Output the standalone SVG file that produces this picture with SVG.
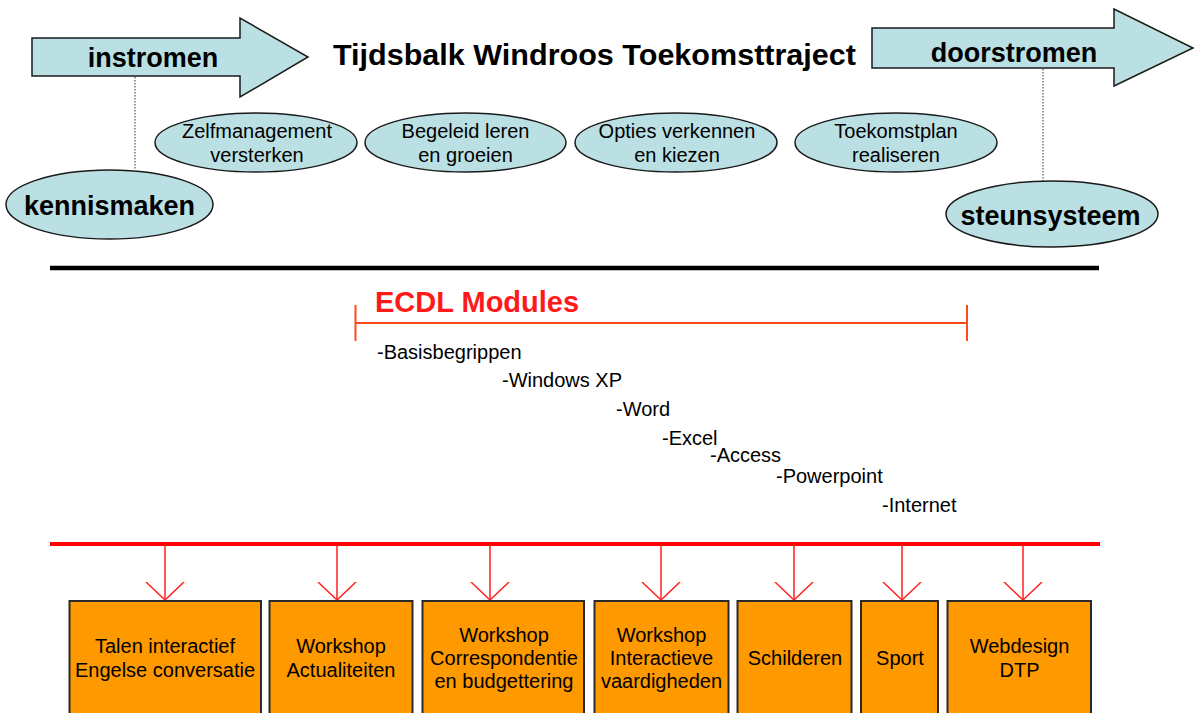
<svg xmlns="http://www.w3.org/2000/svg" width="1198" height="713" viewBox="0 0 1198 713">
<style>
.shape{fill:#BBE0E3;stroke:#1a1a1a;stroke-width:1.5}
.big{font-family:"Liberation Sans",Arial,sans-serif;font-weight:bold;font-size:27px;fill:#000;text-anchor:middle}
.sm{font-family:"Liberation Sans",Arial,sans-serif;font-size:20px;fill:#000;text-anchor:middle}
.li{font-family:"Liberation Sans",Arial,sans-serif;font-size:20px;fill:#000}
.box{fill:#FF9900;stroke:#2a2a2a;stroke-width:2}
.dot{stroke:#555;stroke-width:1.2;stroke-dasharray:1.5 1.5;fill:none}
.conn{stroke:#FF2020;stroke-width:1.5;fill:none}
</style>
<defs>
<marker id="vhead" markerWidth="40" markerHeight="20" refX="20" refY="18" orient="0" markerUnits="userSpaceOnUse" viewBox="0 0 40 20">
<path d="M1,0 L20,18 L39,0" fill="none" stroke="#FF2020" stroke-width="1.5"/>
</marker>
</defs>
<rect width="1198" height="713" fill="#fff"/>

<g id="title">
<text x="333" y="65" font-family="Liberation Sans,Arial,sans-serif" font-weight="bold" font-size="30" textLength="523" lengthAdjust="spacingAndGlyphs">Tijdsbalk Windroos Toekomsttraject</text>
</g>

<g id="connectors-top">
<line class="dot" x1="135" y1="77" x2="135" y2="170"/>
<line class="dot" x1="1043" y1="69" x2="1043" y2="181"/>
</g>

<g id="instromen">
<polygon class="shape" points="32,38 240,38 240,18 308,57 240,97 240,76 32,76"/>
<text class="big" x="153" y="67">instromen</text>
</g>

<g id="doorstromen">
<polygon class="shape" points="872,28 1114,28 1114,9 1193,48 1114,86 1114,68 872,68"/>
<text class="big" x="1014" y="62">doorstromen</text>
</g>

<g id="kennismaken">
<ellipse class="shape" cx="109.5" cy="204.5" rx="103.5" ry="34.5"/>
<text class="big" x="109.5" y="215" font-size="27.5">kennismaken</text>
</g>

<g id="zelfmanagement">
<ellipse class="shape" cx="256" cy="142.5" rx="101" ry="29.5"/>
<text class="sm" x="257" y="138">Zelfmanagement</text>
<text class="sm" x="257" y="162">versterken</text>
</g>

<g id="begeleid">
<ellipse class="shape" cx="465.5" cy="142.5" rx="100.5" ry="29.5"/>
<text class="sm" x="465.5" y="138">Begeleid leren</text>
<text class="sm" x="465.5" y="162">en groeien</text>
</g>

<g id="opties">
<ellipse class="shape" cx="676" cy="142.5" rx="101" ry="29.5"/>
<text class="sm" x="677" y="138">Opties verkennen</text>
<text class="sm" x="677" y="162">en kiezen</text>
</g>

<g id="toekomstplan">
<ellipse class="shape" cx="896" cy="142.5" rx="101" ry="29.5"/>
<text class="sm" x="896" y="138">Toekomstplan</text>
<text class="sm" x="896" y="162">realiseren</text>
</g>

<g id="steunsysteem">
<ellipse class="shape" cx="1052" cy="214" rx="106" ry="33"/>
<text class="big" x="1050.5" y="225">steunsysteem</text>
</g>

<g id="divider">
<line x1="50" y1="268" x2="1099" y2="268" stroke="#000" stroke-width="4.5"/>
</g>

<g id="ecdl">
<text x="375" y="311.5" font-family="Liberation Sans,Arial,sans-serif" font-weight="bold" font-size="29" fill="#FF1A1A">ECDL Modules</text>
<line x1="355.5" y1="305" x2="355.5" y2="341" stroke="#FF4A1A" stroke-width="2"/>
<line x1="355.5" y1="323" x2="967" y2="323" stroke="#FF4A1A" stroke-width="2"/>
<line x1="967" y1="305" x2="967" y2="341" stroke="#FF4A1A" stroke-width="2"/>
<text class="li" x="377" y="359">-Basisbegrippen</text>
<text class="li" x="502" y="387">-Windows XP</text>
<text class="li" x="616" y="416">-Word</text>
<text class="li" x="662" y="445">-Excel</text>
<text class="li" x="710" y="462">-Access</text>
<text class="li" x="776" y="483">-Powerpoint</text>
<text class="li" x="882" y="512">-Internet</text>
</g>

<g id="connectors">
<line x1="50" y1="544" x2="1100" y2="544" stroke="#FF0000" stroke-width="4"/>
<line class="conn" x1="165" y1="545" x2="165" y2="600" marker-end="url(#vhead)"/>
<line class="conn" x1="337" y1="545" x2="337" y2="600" marker-end="url(#vhead)"/>
<line class="conn" x1="490" y1="545" x2="490" y2="600" marker-end="url(#vhead)"/>
<line class="conn" x1="661" y1="545" x2="661" y2="600" marker-end="url(#vhead)"/>
<line class="conn" x1="794" y1="545" x2="794" y2="600" marker-end="url(#vhead)"/>
<line class="conn" x1="902" y1="545" x2="902" y2="600" marker-end="url(#vhead)"/>
<line class="conn" x1="1023" y1="545" x2="1023" y2="600" marker-end="url(#vhead)"/>
</g>

<g id="talen">
<rect class="box" x="69.5" y="601" width="191.5" height="125"/>
<text class="sm" x="165" y="653">Talen interactief</text>
<text class="sm" x="165" y="676.5">Engelse conversatie</text>
</g>

<g id="actualiteiten">
<rect class="box" x="269.5" y="601" width="143" height="125"/>
<text class="sm" x="341" y="653">Workshop</text>
<text class="sm" x="341" y="676.5">Actualiteiten</text>
</g>

<g id="correspondentie">
<rect class="box" x="422.5" y="601" width="161.5" height="125"/>
<text class="sm" x="504" y="642">Workshop</text>
<text class="sm" x="504" y="665">Correspondentie</text>
<text class="sm" x="504" y="688">en budgettering</text>
</g>

<g id="interactieve">
<rect class="box" x="594.5" y="601" width="134" height="125"/>
<text class="sm" x="661.5" y="642">Workshop</text>
<text class="sm" x="661.5" y="665">Interactieve</text>
<text class="sm" x="661.5" y="688">vaardigheden</text>
</g>

<g id="schilderen">
<rect class="box" x="737.5" y="601" width="114" height="125"/>
<text class="sm" x="795" y="665">Schilderen</text>
</g>

<g id="sport">
<rect class="box" x="861" y="601" width="77" height="125"/>
<text class="sm" x="900" y="665">Sport</text>
</g>

<g id="webdesign">
<rect class="box" x="947.5" y="601" width="143.5" height="125"/>
<text class="sm" x="1019.5" y="653">Webdesign</text>
<text class="sm" x="1019.5" y="676.5">DTP</text>
</g>
</svg>
